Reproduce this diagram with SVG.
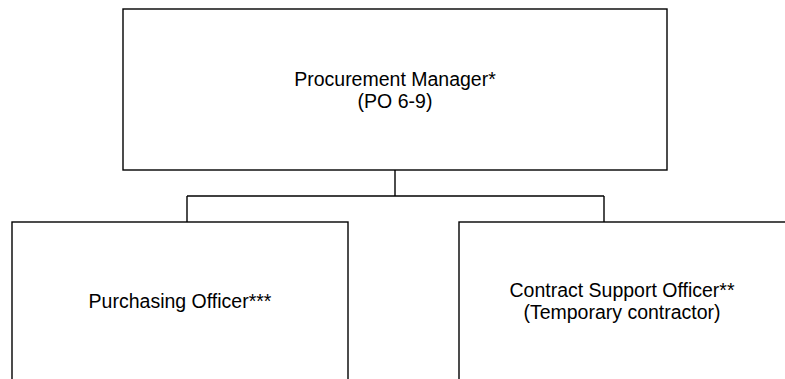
<svg xmlns="http://www.w3.org/2000/svg" width="785" height="379" viewBox="0 0 785 379">
  <style>
    .box { fill: #ffffff; stroke: #000000; stroke-width: 1.4; }
    .conn { fill: none; stroke: #000000; stroke-width: 1.4; }
    .lbl { font-family: "Liberation Sans", Arial, sans-serif; font-size: 19.5px; fill: #000000; text-anchor: middle; }
  </style>
  <rect width="785" height="379" fill="#ffffff"/>
  <g id="connectors">
    <line class="conn" x1="395" y1="170" x2="395" y2="196"/>
    <line class="conn" x1="187" y1="196" x2="604" y2="196"/>
    <line class="conn" x1="187" y1="196" x2="187" y2="222"/>
    <line class="conn" x1="604" y1="196" x2="604" y2="222"/>
  </g>
  <g id="procurement-manager">
    <rect class="box" x="123" y="9" width="544" height="161"/>
    <text class="lbl" x="395" y="86">Procurement Manager*</text>
    <text class="lbl" x="395" y="108">(PO 6-9)</text>
  </g>
  <g id="purchasing-officer">
    <rect class="box" x="12" y="222" width="336" height="170"/>
    <text class="lbl" x="180" y="308">Purchasing Officer***</text>
  </g>
  <g id="contract-support-officer">
    <rect class="box" x="459" y="222" width="340" height="170"/>
    <text class="lbl" x="622" y="297">Contract Support Officer**</text>
    <text class="lbl" x="622" y="319">(Temporary contractor)</text>
  </g>
</svg>
